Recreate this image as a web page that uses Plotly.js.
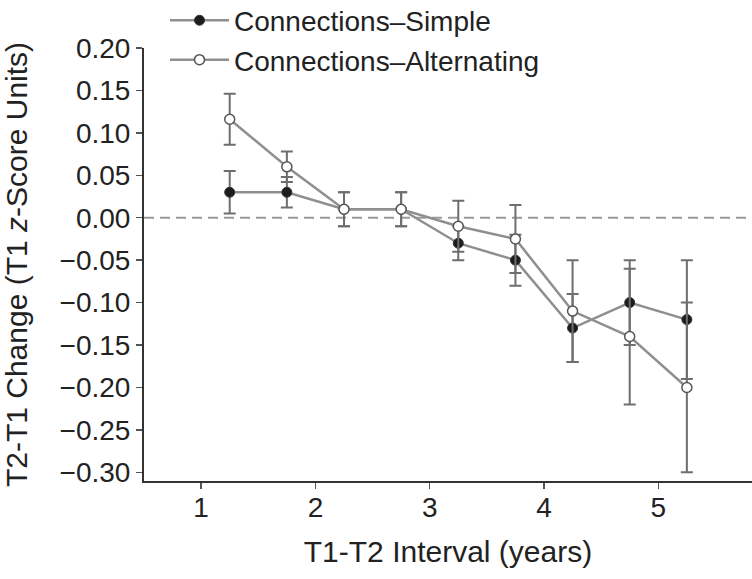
<!DOCTYPE html>
<html>
<head>
<meta charset="utf-8">
<script src="https://cdn.plot.ly/plotly-3.0.1.min.js"></script>
<style>
html,body{margin:0;padding:0;background:#ffffff;}
#chart{width:752px;height:579px;}
</style>
</head>
<body>
<div id="chart"></div>
<script>
// T1-T2 interval midpoints (years)
const intervals = [1.25, 1.75, 2.25, 2.75, 3.25, 3.75, 4.25, 4.75, 5.25];
// Connections–Simple
const simpleMean = [0.03, 0.03, 0.01, 0.01, -0.03, -0.05, -0.13, -0.10, -0.12];
const simpleErr  = [0.025, 0.018, 0.02, 0.02, 0.02, 0.03, 0.04, 0.05, 0.07];
// Connections–Alternating
const altMean = [0.116, 0.06, 0.01, 0.01, -0.01, -0.025, -0.11, -0.14, -0.20];
const altErr  = [0.03, 0.018, 0.02, 0.02, 0.03, 0.04, 0.06, 0.08, 0.10];
// axis ticks
const xTicks = [1, 2, 3, 4, 5];
const yTicks = [0.20, 0.15, 0.10, 0.05, 0.00, -0.05, -0.10, -0.15, -0.20, -0.25, -0.30];
const seriesNames = ['Connections\u2013Simple', 'Connections\u2013Alternating'];

const FONT = 'Liberation Sans, Arial, Helvetica, sans-serif';
const TXT = '#222222';

const traces = [
  {
    x: intervals, y: simpleMean, name: seriesNames[0],
    type: 'scatter', mode: 'lines+markers',
    line: {color: '#8f8f8f', width: 2.5},
    marker: {symbol: 'circle', size: 10, color: '#1c1c1c', line: {color: '#333333', width: 1}},
    error_y: {type: 'data', array: simpleErr, visible: true, color: '#6e6e6e', thickness: 2, width: 6}
  },
  {
    x: intervals, y: altMean, name: seriesNames[1],
    type: 'scatter', mode: 'lines+markers',
    line: {color: '#8f8f8f', width: 2.5},
    marker: {symbol: 'circle', size: 10, color: '#ffffff', line: {color: '#555555', width: 1.5}},
    error_y: {type: 'data', array: altErr, visible: true, color: '#6e6e6e', thickness: 2, width: 6}
  }
];

const layout = {
  width: 752, height: 579,
  margin: {l: 144, r: 0, t: 47.5, b: 98, pad: 0, autoexpand: false},
  paper_bgcolor: '#ffffff', plot_bgcolor: '#ffffff',
  font: {family: FONT, color: TXT, size: 28},
  showlegend: true,
  legend: {
    x: (165 - 144) / 608, xanchor: 'left',
    y: 1 + (47.5 + 5) / 433.5, yanchor: 'top',
    bgcolor: 'rgba(0,0,0,0)', borderwidth: 0,
    font: {family: FONT, size: 28, color: TXT},
    itemwidth: 59, tracegroupgap: 0
  },
  xaxis: {
    range: [0.5, 5.82], tickvals: xTicks, ticktext: xTicks.map(String),
    showgrid: false, zeroline: false,
    showline: true, linecolor: '#333333', linewidth: 2,
    ticks: 'outside', ticklen: 6, tickwidth: 1.5, tickcolor: '#555555',
    ticklabelstandoff: -6,
    tickfont: {family: FONT, size: 28, color: TXT},
    title: {text: 'T1-T2 Interval (years)', font: {family: FONT, size: 30, color: TXT}, standoff: 19}
  },
  yaxis: {
    range: [-0.3102, 0.2], tickvals: yTicks, tickformat: '.2f',
    showgrid: false, zeroline: false,
    showline: true, linecolor: '#333333', linewidth: 2,
    ticks: 'outside', ticklen: 6, tickwidth: 1.5, tickcolor: '#555555',
    tickfont: {family: FONT, size: 28, color: TXT},
    title: {text: 'T2-T1 Change (T1 <i>z</i>-Score Units)', font: {family: FONT, size: 30, color: TXT}, standoff: 23}
  },
  shapes: [
    {type: 'line', xref: 'paper', x0: 0, x1: 1, yref: 'y', y0: 0, y1: 0,
     line: {color: '#9a9a9a', width: 2, dash: '10px,6px'}, layer: 'below'}
  ]
};

Plotly.newPlot('chart', traces, layout, {displayModeBar: false, staticPlot: true});
</script>
</body>
</html>
